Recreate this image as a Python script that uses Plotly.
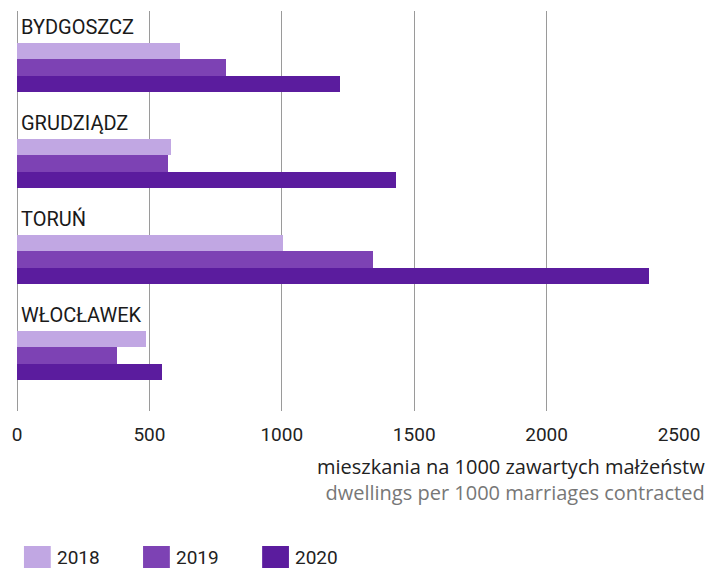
import plotly.graph_objects as go

cities = ["BYDGOSZCZ", "GRUDZIĄDZ", "TORUŃ", "WŁOCŁAWEK"]
years = ["2018", "2019", "2020"]
v2018 = [616, 583, 1004, 489]
v2019 = [789, 572, 1346, 376]
v2020 = [1221, 1431, 2387, 549]
values = [v2018, v2019, v2020]
colors = ["#c1a7e3", "#7d42b4", "#5b1c9e"]
x_ticks = [0, 500, 1000, 1500, 2000, 2500]
title_pl = "mieszkania na 1000 zawartych małżeństw"
title_en = "dwellings per 1000 marriages contracted"

W, H = 711, 568
ML, MR, MT, MB = 17, 27, 11, 157
PW, PH = W - ML - MR, H - MT - MB
FONT = "Roboto"
TFONT = "Open Sans"


def px_x(p):
    return (p - ML) / PW


def px_y(p):
    return (H - MB - p) / PH


bw = 0.17
pos = list(range(len(cities)))

fig = go.Figure()
for k, (yr, vals, col) in enumerate(zip(years, values, colors)):
    fig.add_trace(go.Bar(
        x=vals, y=pos, orientation="h", name=yr,
        marker=dict(color=col, line=dict(width=0)),
        width=bw, offset=(k - 1.5) * bw,
        showlegend=False, hoverinfo="x+name",
    ))

annotations = []
for i, c in enumerate(cities):
    annotations.append(dict(
        x=0, y=i - 0.425, xref="x", yref="y", text=c, showarrow=False,
        xanchor="left", yanchor="middle", xshift=2,
        font=dict(family=FONT, size=20, color="#1a1a1a"),
    ))

annotations.append(dict(
    x=px_x(711), y=px_y(479.5), xref="paper", yref="paper",
    text=(f"<span style='color:#222222'>{title_pl}</span><br>"
          f"<span style='color:#777777'>{title_en}</span>"),
    showarrow=False, xanchor="right", yanchor="middle", align="right",
    borderpad=0,
    font=dict(family=TFONT, size=20, color="#222222"),
))

shapes = []
for k, (yr, col) in enumerate(zip(years, colors)):
    x0 = 24 + k * 120
    shapes.append(dict(
        type="rect", xref="paper", yref="paper",
        x0=px_x(x0), x1=px_x(x0 + 27), y0=px_y(546), y1=px_y(568),
        fillcolor=col, line=dict(width=0),
    ))
    annotations.append(dict(
        x=px_x(x0 + 31), y=px_y(557), xref="paper", yref="paper", text=yr,
        showarrow=False, xanchor="left", yanchor="middle",
        font=dict(family=FONT, size=19, color="#222222"),
    ))

fig.update_layout(
    width=W, height=H,
    margin=dict(l=ML, r=MR, t=MT, b=MB, pad=0),
    paper_bgcolor="white", plot_bgcolor="white",
    barmode="overlay",
    bargap=0,
    annotations=annotations,
    shapes=shapes,
    font=dict(family=FONT, size=18, color="#222222"),
    xaxis=dict(
        range=[0, 2500], tickvals=x_ticks, ticktext=[str(t) for t in x_ticks],
        showgrid=True, gridcolor="#9a9a9a", gridwidth=1,
        zeroline=True, zerolinecolor="#9a9a9a", zerolinewidth=1,
        showline=False, ticks="", ticklabelstandoff=10,
        tickfont=dict(family=FONT, size=19, color="#222222"),
        fixedrange=True,
    ),
    yaxis=dict(
        range=[3.578, -0.589], showgrid=False, zeroline=False,
        showticklabels=False, ticks="", fixedrange=True,
    ),
)

fig.write_html(
    "out.html",
    config={"displayModeBar": False},
    post_script="document.body.style.margin='0';document.body.style.overflow='hidden';",
)
